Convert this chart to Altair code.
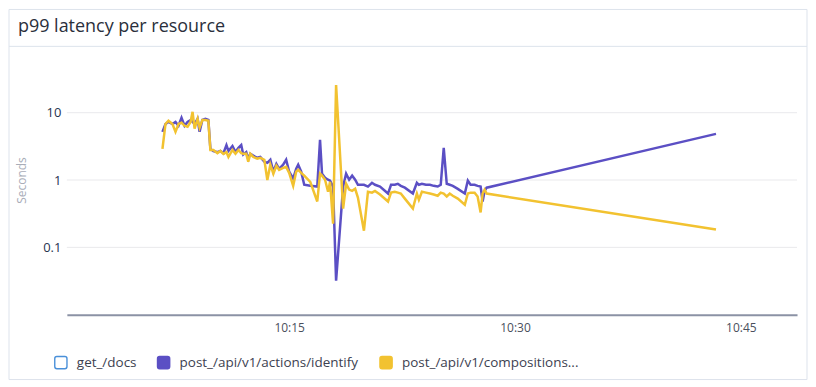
import altair as alt
import pandas as pd

times = ["10:06:35", "10:06:47", "10:06:59", "10:07:15", "10:07:27", "10:07:39", "10:07:51", "10:08:03",
         "10:08:15", "10:08:27", "10:08:35", "10:08:43", "10:08:55", "10:09:03", "10:09:14", "10:09:26",
         "10:09:38", "10:09:46", "10:09:58", "10:10:14", "10:10:26", "10:10:38", "10:10:50", "10:10:58",
         "10:11:14", "10:11:26", "10:11:38", "10:11:49", "10:11:57", "10:12:09", "10:12:17", "10:12:25",
         "10:12:37", "10:12:53", "10:13:05", "10:13:21", "10:13:33", "10:13:45", "10:13:57", "10:14:09",
         "10:14:20", "10:14:36", "10:14:48", "10:15:00", "10:15:16", "10:15:28", "10:15:36", "10:15:48",
         "10:16:00", "10:16:24", "10:16:52", "10:17:03", "10:17:11", "10:17:23", "10:17:35", "10:17:43",
         "10:17:55", "10:18:07", "10:18:35", "10:18:47", "10:18:59", "10:19:11", "10:19:23", "10:19:34",
         "10:19:58", "10:20:14", "10:20:30", "10:20:42", "10:21:02", "10:21:34", "10:21:46", "10:22:01",
         "10:22:13", "10:22:25", "10:22:41", "10:23:13", "10:23:29", "10:23:37", "10:23:49", "10:24:05",
         "10:24:21", "10:24:36", "10:24:52", "10:25:04", "10:25:16", "10:25:28", "10:25:40", "10:25:52",
         "10:26:12", "10:26:40", "10:26:52", "10:27:03", "10:27:19", "10:27:31", "10:27:43", "10:27:51",
         "10:27:59", "10:28:07", "10:43:21"]

identify = [5.2, 6.8, 7.3, 6.8, 7.3, 6.4, 8.4, 6.4,
            7.3, 7.8, 7.3, 6.8, 8.1, 5.2, 7.8, 8.1,
            7.8, 2.9, 2.7, 2.6, 2.7, 2.5, 3.3, 2.7,
            3.2, 2.6, 3.0, 3.3, 2.4, 2.6, 2.07, 2.45,
            2.3, 2.14, 2.2, 1.87, 1.8, 2.0, 1.33, 1.74,
            1.47, 1.69, 2.0, 1.33, 1.05, 1.47, 1.69, 1.33,
            0.85, 0.82, 0.80, 3.95, 1.24, 1.08, 1.01, 0.98,
            0.80, 0.032, 0.80, 1.24, 1.01, 1.16, 1.01, 0.85,
            0.85, 0.80, 0.91, 0.85, 0.80, 0.63, 0.85, 0.85,
            0.88, 0.82, 0.77, 0.63, 0.91, 0.85, 0.88, 0.85,
            0.85, 0.82, 0.80, 0.85, 3.0, 0.88, 0.85, 0.82,
            0.74, 0.63, 0.98, 0.85, 0.85, 0.82, 0.80, 0.48,
            0.69, 0.77, 4.85]

compositions = [2.9, 6.8, 7.6, 6.8, 5.2, 6.8, 7.1, 6.4,
                6.2, 7.3, 10.3, 5.8, 8.1, 6.0, 7.8, 7.8,
                7.6, 2.8, 2.8, 2.5, 2.7, 2.45, 2.6, 2.2,
                2.8, 2.45, 2.8, 2.5, 2.45, 2.45, 1.87, 2.45,
                2.2, 2.07, 2.14, 2.0, 1.0, 1.69, 1.24, 1.63,
                1.42, 1.52, 1.57, 1.28, 0.82, 1.33, 1.42, 1.28,
                1.16, 0.94, 0.48, 1.24, 1.16, 1.01, 0.67, 0.94,
                0.225, 25.8, 0.376, 0.88, 0.72, 0.69, 0.74, 0.55,
                0.177, 0.67, 0.65, 0.69, 0.61, 0.48, 0.65, 0.67,
                0.65, 0.63, 0.53, 0.376, 0.63, 0.51, 0.67, 0.65,
                0.63, 0.61, 0.585, 0.65, 0.63, 0.57, 0.63, 0.585,
                0.53, 0.43, 0.63, 0.65, 0.65, 0.57, 0.33, 0.63,
                0.72, 0.63, 0.184]

series_names = ["get_/docs", "post_/api/v1/actions/identify", "post_/api/v1/compositions..."]
series_colors = ["#4a90d9", "#5b4fc4", "#f2c230"]
y_ticks = [0.1, 1, 10]
x_tick_times = [(10, 15), (10, 30), (10, 45)]

DAY = "2024-01-01T"
rows = []
for t, a, b in zip(times, identify, compositions):
    rows.append({"time": DAY + t, "series": series_names[1], "value": a})
    rows.append({"time": DAY + t, "series": series_names[2], "value": b})
df = pd.DataFrame(rows)


def dt(h, m, s=0):
    return alt.DateTime(year=2024, month=1, date=1, hours=h, minutes=m, seconds=s)


BORDER = "#dde3ec"

y_scale = alt.Scale(type="log", domain=[0.01, 100])
y_axis = alt.Axis(
    values=y_ticks, format="~g", title="Seconds", grid=False, ticks=False,
    domain=False, labelColor="#27344f", labelFontSize=13, labelPadding=6,
    titleColor="#a9adb8", titleFontWeight="normal", titleFontSize=12,
    titlePadding=14, zindex=1,
)

card = alt.Chart(alt.Data(values=[{}])).mark_rect(
    fill="white", stroke=BORDER, strokeWidth=1
).encode(x=alt.value(-58), x2=alt.value(742), y=alt.value(-36), y2=alt.value(335))

divider = alt.Chart(alt.Data(values=[{}])).mark_rule(
    color=BORDER, strokeWidth=1
).encode(x=alt.value(-58), x2=alt.value(742), y=alt.value(1))

grid = alt.Chart(pd.DataFrame({"value": y_ticks})).mark_rule(
    color="#e9e9ec", strokeWidth=1
).encode(y=alt.Y("value:Q", scale=y_scale, axis=y_axis))

rounded_square = ("M-1,-0.65 Q-1,-1 -0.65,-1 L0.65,-1 Q1,-1 1,-0.65 L1,0.65 Q1,1 0.65,1 "
                  "L-0.65,1 Q-1,1 -1,0.65 Z")

lines = alt.Chart(df).mark_line(strokeWidth=2.5).encode(
    x=alt.X(
        "time:T",
        scale=alt.Scale(domain=[dt(10, 0, 14), dt(10, 48, 44)]),
        axis=alt.Axis(
            values=[dt(h, m) for h, m in x_tick_times], format="%H:%M", title=None,
            grid=False, ticks=False, domain=True, domainColor="#8b92a5", domainWidth=2,
            labelColor="#4a4f5c", labelFontSize=12, labelPadding=8, zindex=1,
        ),
    ),
    y=alt.Y("value:Q", scale=y_scale, axis=y_axis),
    color=alt.Color(
        "series:N",
        scale=alt.Scale(domain=series_names, range=series_colors),
        legend=alt.Legend(
            title=None, orient="none", legendX=-13, legendY=311, direction="horizontal",
            symbolType=rounded_square, symbolSize=150, symbolStrokeWidth=1.4,
            symbolOpacity=1,
            symbolFillColor={"expr": "datum.value === 'get_/docs' ? '#ffffff' : scale('color', datum.value)"},
            symbolStrokeColor={"expr": "scale('color', datum.value)"},
            labelFontSize=13.5, labelColor="#3c4150", labelOffset=9, columnPadding=18,
            labelLimit=400,
        ),
    ),
)

chart = alt.layer(card, grid, divider, lines).properties(
    width=732, height=270, padding=0, background="white",
    title=alt.TitleParams(
        "p99 latency per resource", anchor="start", frame="group", dx=-49, offset=-27,
        fontSize=18, fontWeight="normal", color="#2a2f3b",
    ),
).configure(font="Open Sans").configure_view(stroke=None)

chart.save("out.html", embed_options={"renderer": "svg", "actions": False})
